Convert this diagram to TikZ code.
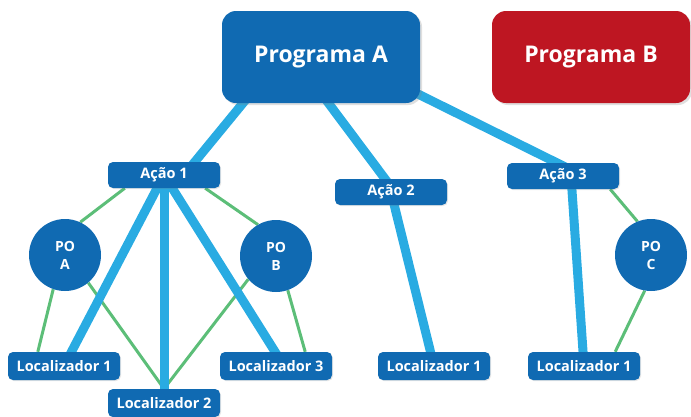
\documentclass[tikz,border=0pt]{standalone}
\usepackage{fontspec}
\setmainfont{Open Sans}
\usetikzlibrary{backgrounds,shadows}
\definecolor{progblue}{RGB}{16,106,178}
\definecolor{progred}{RGB}{190,22,34}
\definecolor{linkblue}{RGB}{41,171,226}
\definecolor{linkgreen}{RGB}{92,190,120}

\begin{document}
\begin{tikzpicture}[x=1pt,y=-1pt,
  prog/.style={rectangle,rounded corners=14pt,minimum width=198pt,minimum height=92pt,text=white,
    font=\fontsize{23}{26}\selectfont\bfseries,drop shadow={opacity=0.25,shadow xshift=2pt,shadow yshift=-2pt}},
  acao/.style={rectangle,rounded corners=5pt,fill=progblue,minimum width=112pt,minimum height=26pt,text=white,
    font=\fontsize{14.5}{16}\selectfont\bfseries,drop shadow={opacity=0.2,shadow xshift=1pt,shadow yshift=-1pt}},
  loc/.style={acao,minimum height=28pt,inner xsep=2pt},
  po/.style={circle,fill=progblue,minimum size=72pt,inner sep=0pt,align=center,text=white,
    font=\fontsize{14}{18}\selectfont\bfseries},
  tronco/.style={draw=linkblue,line width=9pt},
  ramo/.style={draw=linkgreen,line width=3pt}]
\useasboundingbox (0,0) rectangle (691,416);
\node [prog,fill=progblue] (pa) at (321,57) {Programa A};
\node [prog,fill=progred] (pb) at (591,57) {Programa B};
\node [acao] (a1) at (164,175) {Ação 1};
\node [acao] (a2) at (391,192) {Ação 2};
\node [acao] (a3) at (563,176) {Ação 3};
\node [po] (poa) at (65,255) {PO\\A};
\node [po] (pob) at (276,256) {PO\\B};
\node [po] (poc) at (651,255) {PO\\C};
\node [loc] (l1) at (64,366) {Localizador 1};
\node [loc] (l2) at (164,403) {Localizador 2};
\node [loc] (l3) at (276,366) {Localizador 3};
\node [loc] (l4) at (434,366) {Localizador 1};
\node [loc] (l5) at (584,366) {Localizador 1};
\begin{pgfonlayer}{background}
\draw [ramo] ([xshift=17pt]a1.south west) -- (poa.65);
\draw [ramo] ([xshift=-15pt]a1.south east) -- (pob.120);
\draw [ramo] (poa.-109) -- ([xshift=30pt]l1.north west);
\draw [ramo] (poa.-50) -- (l2.north);
\draw [ramo] (pob.220) -- (l2.north);
\draw [ramo] (pob.-71) -- ([xshift=-27pt]l3.north east);
\draw [ramo] ([xshift=-9pt]a3.south east) -- (poc.112);
\draw [ramo] (poc.-100) -- ([xshift=-25pt]l5.north east);
\draw [tronco] ([xshift=40pt,yshift=23pt]pa.south west) -- ([xshift=20pt]a1.center);
\draw [tronco] ([yshift=10pt]pa.south) -- ([yshift=-8pt]a2.north);
\draw [tronco] ([xshift=-20pt,yshift=18pt]pa.south east) -- ([xshift=10pt,yshift=-8pt]a3.north);
\draw [tronco] (a1.center) -- (l1.center);
\draw [tronco] (a1.center) -- (l2.center);
\draw [tronco] (a1.center) -- ([xshift=8pt]l3.center);
\draw [tronco] (a2.center) -- (l4.center);
\draw [tronco] ([xshift=8pt]a3.center) -- (l5.center);
\end{pgfonlayer}
\end{tikzpicture}
\end{document}
